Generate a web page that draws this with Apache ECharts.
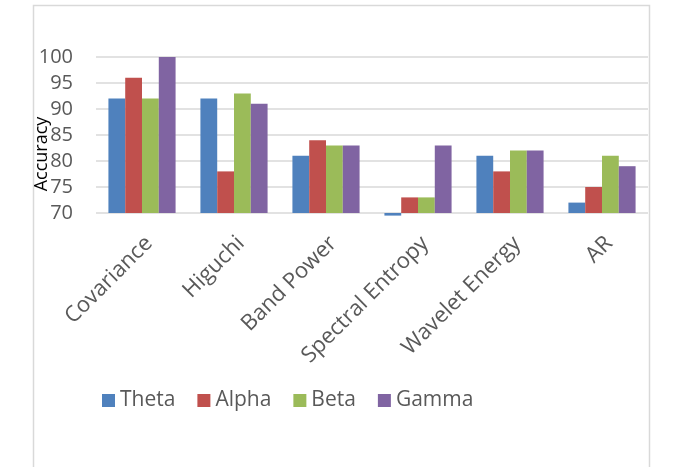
<!DOCTYPE html>
<html>
<head>
<meta charset="utf-8">
<script src="https://cdn.jsdelivr.net/npm/echarts@6/dist/echarts.min.js"></script>
<style>
  html, body { margin: 0; padding: 0; background: #fff; }
  #chart { width: 683px; height: 467px; }
</style>
</head>
<body>
<div id="chart"></div>
<script>
const categories = ['Covariance', 'Higuchi', 'Band Power', 'Spectral Entropy', 'Wavelet Energy', 'AR'];
const theta = [92, 92, 81, 69.5, 81, 72];
const alpha = [96, 78, 84, 73, 78, 75];
const beta  = [92, 93, 83, 73, 82, 81];
const gamma = [100, 91, 83, 83, 82, 79];
const seriesNames = ['Theta', 'Alpha', 'Beta', 'Gamma'];
const seriesColors = ['#4F81BD', '#C0504D', '#9BBB59', '#8064A2'];
const yTicks = { min: 70, max: 100, interval: 5 };

const FONT = '"Open Sans", sans-serif';
const chart = echarts.init(document.getElementById('chart'), null, { renderer: 'canvas' });

const dataSets = [theta, alpha, beta, gamma];
const series = dataSets.map((d, i) => ({
  name: seriesNames[i],
  type: 'bar',
  data: d,
  clip: false,
  barGap: '0%',
  barCategoryGap: '27%',
  itemStyle: { color: seriesColors[i] }
}));

chart.setOption({
  animation: false,
  backgroundColor: '#ffffff',
  textStyle: { fontFamily: FONT },
  grid: { left: 96, right: 35, top: 57, bottom: 254, containLabel: false },
  legend: {
    data: seriesNames,
    left: 102,
    top: 390,
    padding: 0,
    itemWidth: 13,
    itemHeight: 13,
    itemGap: 22,
    icon: 'rect',
    textStyle: { fontFamily: FONT, fontSize: 21, color: '#595959', lineHeight: 20 }
  },
  xAxis: {
    type: 'category',
    data: categories,
    axisLine: { show: false },
    axisTick: { show: false },
    axisLabel: {
      interval: 0,
      rotate: 45,
      fontFamily: FONT,
      fontSize: 22,
      color: '#595959',
      margin: 34,
      padding: [0, -10, 0, 0]
    }
  },
  yAxis: {
    type: 'value',
    min: yTicks.min,
    max: yTicks.max,
    interval: yTicks.interval,
    startValue: yTicks.min,
    name: 'Accuracy',
    nameLocation: 'middle',
    nameRotate: 90,
    nameGap: 45,
    nameMoveOverlap: false,
    nameTextStyle: { fontFamily: FONT, fontSize: 18, color: '#000000', padding: [0, 38, 0, 0] },
    axisLine: { show: false },
    axisTick: { show: false },
    axisLabel: { fontFamily: FONT, fontSize: 20, color: '#595959', margin: 23 },
    splitLine: { show: true, lineStyle: { color: '#d9d9d9', width: 1.5 } }
  },
  graphic: [{
    type: 'rect',
    silent: true,
    z: -1,
    shape: { x: 33.5, y: 5.5, width: 616, height: 480 },
    style: { fill: 'none', stroke: '#d9d9d9', lineWidth: 1.5 }
  }],
  series: series
});
</script>
</body>
</html>
